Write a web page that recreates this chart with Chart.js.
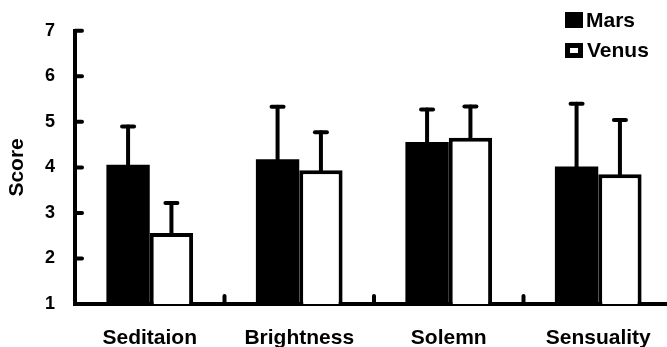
<!DOCTYPE html>
<html lang="en">
<head>
  <meta charset="UTF-8">
  <title>Score by condition</title>
  <script src="https://cdn.jsdelivr.net/npm/chart.js"></script>
  <style>
    html, body { margin: 0; padding: 0; background: #fff; overflow: hidden; }
    #wrap { width: 673px; height: 347px; }
  </style>
</head>
<body>
  <div id="wrap">
    <canvas id="scoreChart" width="673" height="347"></canvas>
  </div>
  <script>
    // data
    const categories = ['Seditaion', 'Brightness', 'Solemn', 'Sensuality'];
    const marsMeans  = [4.06, 4.18, 4.56, 4.02];
    const marsErr    = [0.84, 1.15, 0.71, 1.38];
    const venusMeans = [2.56, 3.94, 4.65, 3.85];
    const venusErr   = [0.66, 0.83, 0.69, 1.19];
    const yTicks     = [1, 2, 3, 4, 5, 6, 7];

    const FONT = "'Liberation Sans', Arial, sans-serif";

    // error bars, inward tick marks and the legend
    const extras = {
      id: 'extras',
      afterDatasetsDraw(chart) {
        const ctx = chart.ctx;
        const y = chart.scales.y, x = chart.scales.x;
        const area = chart.chartArea;
        ctx.save();
        ctx.strokeStyle = '#000';
        ctx.lineCap = 'round';
        ctx.lineWidth = 4;

        // y ticks pointing into the plot
        yTicks.slice(1).forEach(v => {
          const py = y.getPixelForValue(v);
          ctx.beginPath();
          ctx.moveTo(area.left, py);
          ctx.lineTo(area.left + 7, py);
          ctx.stroke();
        });

        // small marks between categories on the x axis
        for (let i = 0; i < categories.length - 1; i++) {
          const px = (x.getPixelForValue(i) + x.getPixelForValue(i + 1)) / 2;
          ctx.beginPath();
          ctx.moveTo(px, area.bottom);
          ctx.lineTo(px, area.bottom - 8);
          ctx.stroke();
        }

        // error bars (upper half only)
        const errs = [marsErr, venusErr];
        chart.data.datasets.forEach((ds, di) => {
          chart.getDatasetMeta(di).data.forEach((bar, i) => {
            const top = y.getPixelForValue(ds.data[i] + errs[di][i]);
            const bx = bar.x;
            ctx.beginPath();
            ctx.moveTo(bx, bar.y);
            ctx.lineTo(bx, top);
            ctx.stroke();
            ctx.beginPath();
            ctx.moveTo(bx - 6, top);
            ctx.lineTo(bx + 6, top);
            ctx.stroke();
          });
        });

        // legend
        ctx.lineCap = 'butt';
        ctx.font = 'bold 21px ' + FONT;
        ctx.fillStyle = '#000';
        ctx.textBaseline = 'middle';
        ctx.textAlign = 'left';
        ctx.fillRect(565, 12, 18, 16);
        ctx.fillText(chart.data.datasets[0].label, 586, 21);
        ctx.fillRect(565, 43, 18, 15);
        ctx.fillStyle = '#fff';
        ctx.fillRect(570, 48, 8, 5);
        ctx.fillStyle = '#000';
        ctx.fillText(chart.data.datasets[1].label, 587, 51);
        ctx.restore();
      }
    };

    const ctx = document.getElementById('scoreChart').getContext('2d');
    const scoreChart = new Chart(ctx, {
      type: 'bar',
      data: {
        labels: categories,
        datasets: [
          { label: 'Mars', data: marsMeans, base: 1,
            backgroundColor: '#000', borderWidth: 0 },
          { label: 'Venus', data: venusMeans, base: 1,
            backgroundColor: '#fff', borderColor: '#000', borderWidth: 4 }
        ]
      },
      options: {
        responsive: false,
        animation: false,
        events: [],
        categoryPercentage: 0.58,
        barPercentage: 1,
        layout: { padding: { top: 26, left: 0, right: 0, bottom: 0 } },
        plugins: { legend: { display: false }, tooltip: { enabled: false } },
        scales: {
          x: {
            grid: { display: false, drawTicks: false },
            border: { color: '#000', width: 4 },
            ticks: { color: '#000', padding: 22, font: { family: FONT, size: 21, weight: 'bold' } },
            afterFit(s) { s.height = 43; }
          },
          y: {
            min: 1, max: 7,
            afterBuildTicks(s) { s.ticks = yTicks.map(v => ({ value: v })); },
            grid: { display: false, drawTicks: false },
            border: { color: '#000', width: 4 },
            ticks: { color: '#000', padding: 20, font: { family: FONT, size: 18, weight: 'bold' } },
            title: { display: true, text: 'Score', color: '#000', padding: { top: 5, bottom: 0 },
                     font: { family: FONT, size: 21, weight: 'bold' } },
            afterFit(s) { s.width = 75; }
          }
        }
      },
      plugins: [extras]
    });
  </script>
</body>
</html>
